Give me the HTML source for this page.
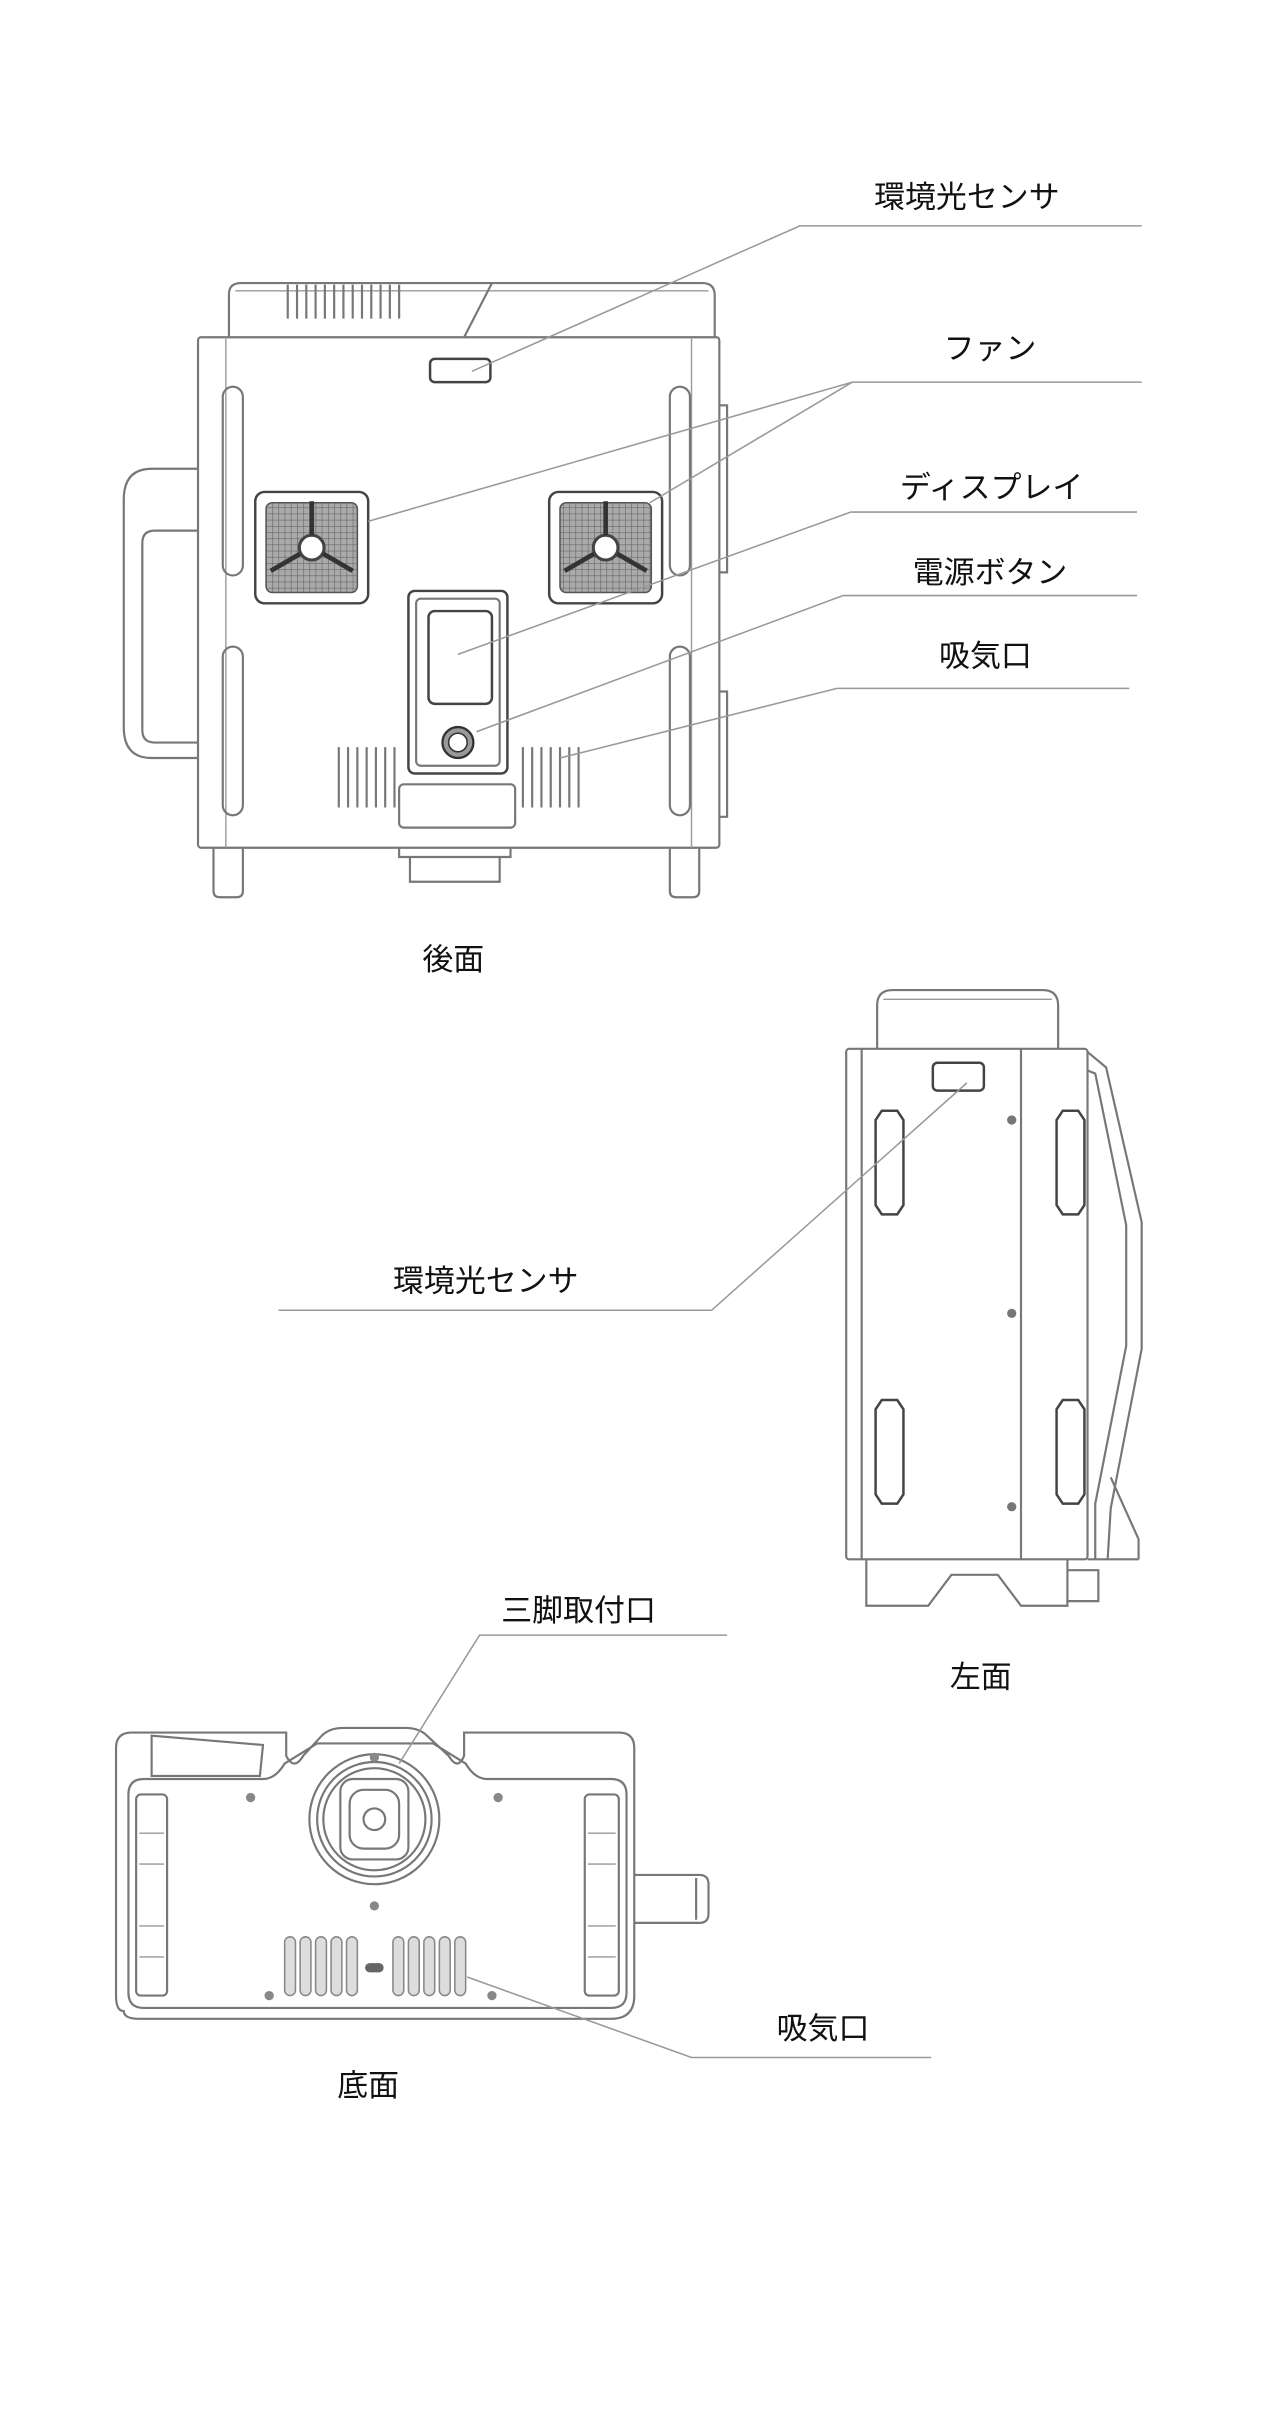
<!DOCTYPE html>
<html><head><meta charset="utf-8"><style>
html,body{margin:0;padding:0;background:#fff;}
svg{display:block;}
text{font-family:"Liberation Sans","Noto Sans CJK JP",sans-serif;fill:#111;font-size:20px;}
.o{fill:none;stroke:#777;stroke-width:1.4;}
.t{fill:none;stroke:#999;stroke-width:0.9;}
.d{fill:none;stroke:#444;stroke-width:1.6;}
.l{fill:none;stroke:#999;stroke-width:1;}
</style></head><body>
<svg width="1284" height="2421" viewBox="0 0 830 1565" xmlns="http://www.w3.org/2000/svg">
<defs>
<pattern id="mesh" width="4" height="4" patternUnits="userSpaceOnUse">
<rect width="4" height="4" fill="#aaa"/><path d="M0,0h4M0,0v4" stroke="#666" stroke-width="0.8"/>
</pattern>
</defs>
<!-- ===== REAR VIEW ===== -->
<path class="o" d="M148,218 L148,190 Q148,183 156,183 L454,183 Q462,183 462,191 L462,218"/>
<path class="t" d="M152,188 L458,188"/>
<path class="o" d="M318,183 L300,218"/>
<g class="o">
<path d="M186,184v22M192,184v22M198,184v22M204,184v22M210,184v22M216,184v22M222,184v22M228,184v22M234,184v22M240,184v22M246,184v22M252,184v22M258,184v22"/>
</g>
<rect class="o" x="128" y="218" width="337" height="330" rx="2"/>
<path class="t" d="M146,218v330M447,218v330"/>
<rect class="d" x="278" y="232" width="39" height="15" rx="3"/>
<rect class="o" x="144" y="250" width="13" height="122" rx="6.5"/>
<rect class="o" x="144" y="418" width="13" height="109" rx="6.5"/>
<rect class="o" x="433" y="250" width="13" height="122" rx="6.5"/>
<rect class="o" x="433" y="418" width="13" height="109" rx="6.5"/>
<path class="o" d="M465,262h5v108h-5M465,447h5v81h-5"/>
<path class="o" d="M128,303 L98,303 Q80,303 80,323 L80,470 Q80,490 98,490 L128,490"/>
<path class="o" d="M128,343 L100,343 Q92,343 92,351 L92,472 Q92,480 100,480 L128,480"/>
<!-- fans -->
<g>
<rect class="d" x="165" y="318" width="73" height="72" rx="6"/>
<rect x="172" y="325" width="59" height="58" rx="4" fill="url(#mesh)" stroke="#555"/>
<circle cx="201.5" cy="354" r="8" fill="#fff" stroke="#444" stroke-width="2"/>
<path d="M201.5,346v-22M194,358l-19,11M209,358l19,11" stroke="#333" stroke-width="3"/>
<rect class="d" x="355" y="318" width="73" height="72" rx="6"/>
<rect x="362" y="325" width="59" height="58" rx="4" fill="url(#mesh)" stroke="#555"/>
<circle cx="391.5" cy="354" r="8" fill="#fff" stroke="#444" stroke-width="2"/>
<path d="M391.5,346v-22M384,358l-19,11M399,358l19,11" stroke="#333" stroke-width="3"/>
</g>
<rect class="d" x="264" y="382" width="64" height="118" rx="4"/>
<rect class="o" x="269" y="387" width="54" height="108" rx="3"/>
<rect class="d" x="277" y="395" width="41" height="60" rx="4"/>
<circle cx="296" cy="480" r="10" fill="#999" stroke="#333" stroke-width="1.5"/>
<circle cx="296" cy="480" r="6" fill="#fff" stroke="#333"/>
<g class="o">
<path d="M219,483v39M225,483v39M231,483v39M237,483v39M243,483v39M249,483v39M255,483v39"/>
<path d="M338,483v39M344,483v39M350,483v39M356,483v39M362,483v39M368,483v39M374,483v39"/>
</g>
<rect class="o" x="258" y="507" width="75" height="28" rx="3"/>
<path class="o" d="M138,548v28q0,4 4,4h11q4,0 4,-4v-28M433,548v28q0,4 4,4h11q4,0 4,-4v-28"/>
<path class="o" d="M258,548v6h72v-6M265,554v16h58v-16"/>
<text x="293" y="627" text-anchor="middle">後面</text>
<!-- rear leaders -->
<path class="l" d="M738,146H517L305,240"/>
<text x="625" y="134" text-anchor="middle">環境光センサ</text>
<path class="l" d="M738,247H551L238,337M551,247L420,325"/>
<text x="640" y="232" text-anchor="middle">ファン</text>
<path class="l" d="M735,331H550L296,423"/>
<text x="641" y="322" text-anchor="middle">ディスプレイ</text>
<path class="l" d="M735,385H545L308,473"/>
<text x="640" y="377" text-anchor="middle">電源ボタン</text>
<path class="l" d="M730,445H541L362,490"/>
<text x="637" y="431" text-anchor="middle">吸気口</text>
<!-- ===== LEFT VIEW ===== -->
<path class="o" d="M567,678 L567,650 Q567,640 577,640 L674,640 Q684,640 684,650 L684,678"/>
<path class="t" d="M571,646h109"/>
<rect class="o" x="547" y="678" width="156" height="330" rx="2"/>
<path class="o" d="M557,678v330M660,678v330"/>
<rect class="d" x="603" y="687" width="33" height="18" rx="3"/>
<path class="d" d="M570,718h10l4,6v55l-4,6h-10l-4,-6v-55z"/>
<path class="d" d="M570,905h10l4,6v55l-4,6h-10l-4,-6v-55z"/>
<path class="d" d="M687,718h10l4,6v55l-4,6h-10l-4,-6v-55z"/>
<path class="d" d="M687,905h10l4,6v55l-4,6h-10l-4,-6v-55z"/>
<circle cx="654" cy="724" r="3" fill="#777"/>
<circle cx="654" cy="849" r="3" fill="#777"/>
<circle cx="654" cy="974" r="3" fill="#777"/>
<path class="o" d="M703,680 L715,690 L738,790 L738,872 L718,975 L716,1008"/>
<path class="o" d="M703,692 L708,694 L728,792 L728,870 L708,972 L708,1008"/>
<path class="o" d="M718,955 L736,995 L736,1008 M703,1008h33"/>
<path class="o" d="M560,1008 L560,1038 L600,1038 L615,1018 L645,1018 L660,1038 L690,1038 L690,1008"/>
<path class="o" d="M690,1015h20v20h-20"/>
<text x="634" y="1091" text-anchor="middle">左面</text>
<path class="l" d="M180,847H460L625,700"/>
<text x="314" y="835" text-anchor="middle">環境光センサ</text>
<!-- ===== BOTTOM VIEW ===== -->
<path class="o" d="M80,1300 Q75,1300 75,1290 L75,1130 Q75,1120 85,1120 L185,1120 L185,1135 Q190,1145 196,1135 L208,1122 Q213,1117 222,1117 L262,1117 Q271,1117 276,1122 L290,1135 Q296,1145 300,1135 L300,1120 L400,1120 Q410,1120 410,1130 L410,1290 Q410,1305 395,1305 L90,1305 Q80,1305 80,1300Z"/>
<path class="o" d="M83,1160 Q83,1150 93,1150 L170,1150 Q178,1150 184,1140 L205,1127 L280,1127 L301,1140 Q307,1150 315,1150 L395,1150 Q405,1150 405,1160 L405,1288 Q405,1298 395,1298 L93,1298 Q83,1298 83,1288Z"/>
<path class="o" d="M98,1122 L98,1148 L168,1148 L170,1128 Z"/>
<circle class="o" cx="242" cy="1176" r="42"/>
<circle class="o" cx="242" cy="1176" r="37"/>
<circle class="o" cx="242" cy="1176" r="33"/>
<rect class="o" x="220" y="1150" width="44" height="52" rx="8"/>
<rect class="o" x="226" y="1157" width="32" height="38" rx="9"/>
<circle class="o" cx="242" cy="1176" r="7"/>
<rect class="o" x="88" y="1160" width="20" height="130" rx="3"/>
<path class="t" d="M90,1185h16M90,1205h16M90,1245h16M90,1265h16"/>
<rect class="o" x="378" y="1160" width="22" height="130" rx="3"/>
<path class="t" d="M380,1185h18M380,1205h18M380,1245h18M380,1265h18"/>
<g fill="#ddd" stroke="#888" stroke-width="1">
<rect x="184" y="1252" width="7" height="38" rx="3.5"/><rect x="194" y="1252" width="7" height="38" rx="3.5"/><rect x="204" y="1252" width="7" height="38" rx="3.5"/><rect x="214" y="1252" width="7" height="38" rx="3.5"/><rect x="224" y="1252" width="7" height="38" rx="3.5"/>
<rect x="254" y="1252" width="7" height="38" rx="3.5"/><rect x="264" y="1252" width="7" height="38" rx="3.5"/><rect x="274" y="1252" width="7" height="38" rx="3.5"/><rect x="284" y="1252" width="7" height="38" rx="3.5"/><rect x="294" y="1252" width="7" height="38" rx="3.5"/>
</g>
<rect x="236" y="1269" width="12" height="6" rx="3" fill="#666"/>
<g fill="#888"><circle cx="162" cy="1162" r="3"/><circle cx="322" cy="1162" r="3"/><circle cx="242" cy="1232" r="3"/><circle cx="174" cy="1290" r="3"/><circle cx="318" cy="1290" r="3"/><circle cx="242" cy="1136" r="3"/></g>
<path class="o" d="M410,1212h42q6,0 6,6v19q0,6 -6,6h-42M450,1214v27"/>
<text x="374" y="1048" text-anchor="middle">三脚取付口</text>
<path class="l" d="M470,1057H310L258,1140"/>
<text x="532" y="1318" text-anchor="middle">吸気口</text>
<path class="l" d="M302,1278L447,1330H602"/>
<text x="238" y="1355" text-anchor="middle">底面</text>
</svg>
</body></html>
